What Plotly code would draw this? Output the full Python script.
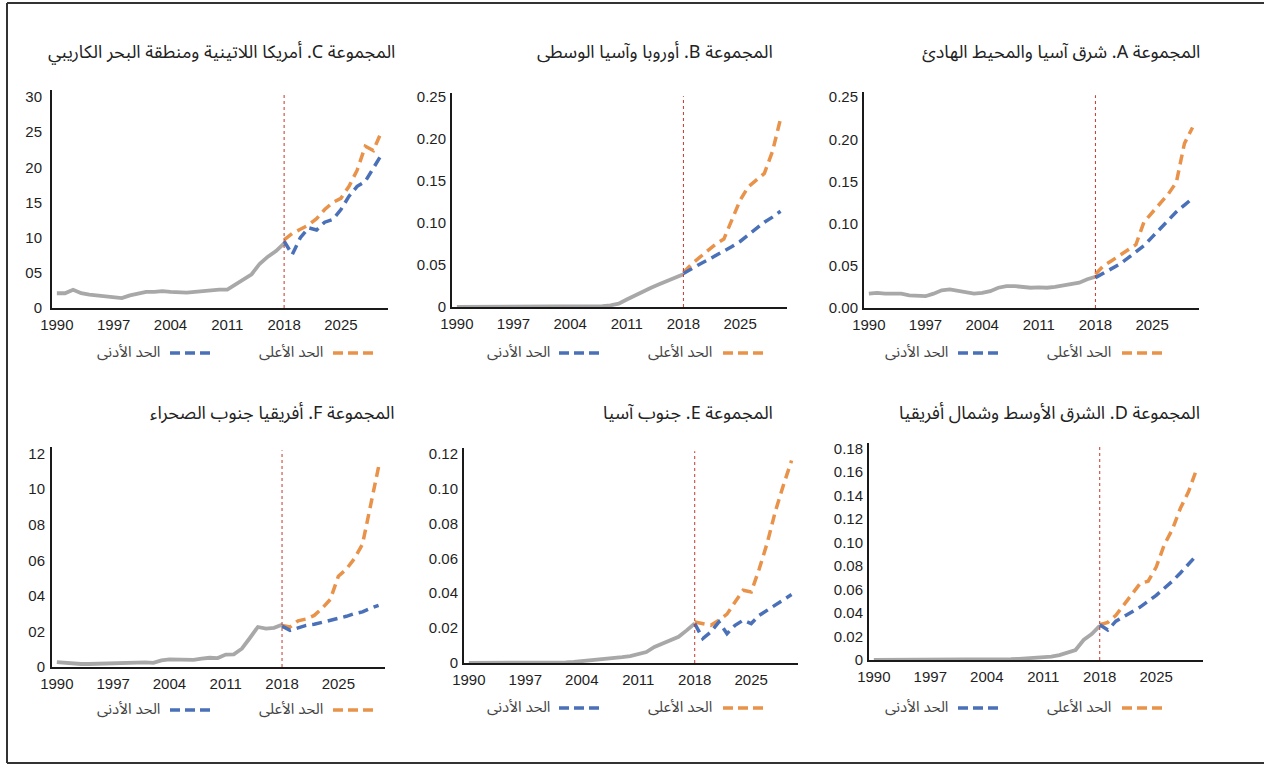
import plotly.graph_objects as go

W, H = 1264, 765

hist_years = list(range(1990, 2019))
proj_years = list(range(2018, 2031))

# Group A - East Asia & Pacific
a_hist = [0.017, 0.018, 0.017, 0.017, 0.017, 0.015, 0.014, 0.014, 0.017, 0.021,
          0.022, 0.020, 0.018, 0.017, 0.018, 0.020, 0.024, 0.026, 0.026, 0.025,
          0.024, 0.0245, 0.024, 0.025, 0.027, 0.028, 0.030, 0.034, 0.037]
a_upper = [0.040, 0.050, 0.056, 0.062, 0.068, 0.075, 0.102, 0.113, 0.124, 0.135,
           0.149, 0.195, 0.214]
a_lower = [0.036, 0.041, 0.047, 0.052, 0.059, 0.066, 0.074, 0.084, 0.094, 0.105,
           0.114, 0.122, 0.130]

# Group B - Europe & Central Asia
b_hist = [0, 0, 0, 0, 0, 0, 0, 0, 0, 0,
          0, 0, 0, 0, 0, 0, 0.0003, 0.0005, 0.001, 0.002,
          0.004, 0.009, 0.014, 0.019, 0.023, 0.027, 0.031, 0.036, 0.039]
b_upper = [0.041, 0.051, 0.059, 0.067, 0.075, 0.081, 0.103, 0.127, 0.143, 0.151,
           0.159, 0.185, 0.224]
b_lower = [0.040, 0.046, 0.051, 0.056, 0.061, 0.066, 0.072, 0.078, 0.086, 0.093,
           0.101, 0.107, 0.114]

# Group C - Latin America & Caribbean
c_hist = [0.021, 0.021, 0.026, 0.021, 0.019, 0.018, 0.017, 0.015, 0.014, 0.018,
          0.021, 0.023, 0.023, 0.024, 0.023, 0.022, 0.022, 0.023, 0.024, 0.026,
          0.026, 0.026, 0.033, 0.040, 0.048, 0.063, 0.073, 0.081, 0.092]
c_upper = [0.097, 0.106, 0.112, 0.118, 0.127, 0.140, 0.150, 0.156, 0.173, 0.196,
           0.230, 0.224, 0.251]
c_lower = [0.095, 0.076, 0.100, 0.114, 0.111, 0.122, 0.126, 0.140, 0.159, 0.173,
           0.180, 0.199, 0.218]

# Group D - Middle East & North Africa
d_hist = [0, 0, 0, 0, 0, 0, 0, 0, 0, 0.0003,
          0.0006, 0.0006, 0.0006, 0.0006, 0.0006, 0.0006, 0.0006, 0.0008, 0.001, 0.0014,
          0.0023, 0.0028, 0.0028, 0.0042, 0.0065, 0.0085, 0.017, 0.022, 0.029]
d_upper = [0.030, 0.032, 0.038, 0.047, 0.055, 0.065, 0.067, 0.079, 0.098, 0.111,
           0.129, 0.143, 0.162]
d_lower = [0.030, 0.0255, 0.033, 0.037, 0.041, 0.045, 0.050, 0.055, 0.061, 0.067,
           0.074, 0.081, 0.089]

# Group E - South Asia
e_hist = [0, 0, 0, 0, 0, 0, 0, 0, 0, 0.0001,
          0.0002, 0.0003, 0.0004, 0.0006, 0.001, 0.0015, 0.002, 0.0025, 0.003, 0.0034,
          0.004, 0.005, 0.0063, 0.0092, 0.011, 0.013, 0.015, 0.0187, 0.0226]
e_upper = [0.0235, 0.0225, 0.0216, 0.0245, 0.028, 0.035, 0.0417, 0.0407, 0.054, 0.069,
           0.087, 0.102, 0.116]
e_lower = [0.0226, 0.014, 0.0178, 0.0235, 0.0168, 0.0216, 0.0245, 0.0226, 0.0273, 0.0302,
           0.033, 0.0359, 0.0392]

# Group F - Sub-Saharan Africa
f_hist = [0.0028, 0.0023, 0.002, 0.0017, 0.0017, 0.0019, 0.002, 0.0019, 0.0024, 0.0024,
          0.0028, 0.0026, 0.0023, 0.0037, 0.0043, 0.0042, 0.004, 0.004, 0.0047, 0.0052,
          0.005, 0.007, 0.0071, 0.0103, 0.0163, 0.0225, 0.0216, 0.022, 0.0238]
f_upper = [0.0234, 0.0225, 0.026, 0.027, 0.029, 0.033, 0.038, 0.051, 0.055, 0.061,
           0.069, 0.091, 0.1125]
f_lower = [0.023, 0.0206, 0.022, 0.0234, 0.024, 0.025, 0.026, 0.027, 0.0285, 0.030,
           0.031, 0.033, 0.0347]

x_ticks = [1990, 1997, 2004, 2011, 2018, 2025]

a_yticks = [0, 0.05, 0.10, 0.15, 0.20, 0.25]
a_ylabels = ["0.00", "0.05", "0.10", "0.15", "0.20", "0.25"]
b_yticks = [0, 0.05, 0.10, 0.15, 0.20, 0.25]
b_ylabels = ["0", "0.05", "0.10", "0.15", "0.20", "0.25"]
c_yticks = [0, 0.05, 0.10, 0.15, 0.20, 0.25, 0.30]
c_ylabels = ["0", "05", "10", "15", "20", "25", "30"]
d_yticks = [0, 0.02, 0.04, 0.06, 0.08, 0.10, 0.12, 0.14, 0.16, 0.18]
d_ylabels = ["0", "0.02", "0.04", "0.06", "0.08", "0.10", "0.12", "0.14", "0.16", "0.18"]
e_yticks = [0, 0.02, 0.04, 0.06, 0.08, 0.10, 0.12]
e_ylabels = ["0", "0.02", "0.04", "0.06", "0.08", "0.10", "0.12"]
f_yticks = [0, 0.02, 0.04, 0.06, 0.08, 0.10, 0.12]
f_ylabels = ["0", "02", "04", "06", "08", "10", "12"]

titles = {
    "A": "المجموعة A. شرق آسيا والمحيط الهادئ",
    "B": "المجموعة B. أوروبا وآسيا الوسطى",
    "C": "المجموعة C. أمريكا اللاتينية ومنطقة البحر الكاريبي",
    "D": "المجموعة D. الشرق الأوسط وشمال أفريقيا",
    "E": "المجموعة E. جنوب آسيا",
    "F": "المجموعة F. أفريقيا جنوب الصحراء",
}
upper_label = "الحد الأعلى"
lower_label = "الحد الأدنى"

GREY = "#a8a8a8"
ORANGE = "#e8924a"
BLUE = "#4a70b8"
RED = "#c0392b"
ARABIC_FONT = "Noto Sans Arabic, DejaVu Sans, sans-serif"
NUM_FONT = "Liberation Sans, Arial, sans-serif"

# layout boxes in pixels: (left, right, top, bottom)
panels = [
    dict(k="A", hist=a_hist, up=a_upper, lo=a_lower, yt=a_yticks, yl=a_ylabels,
         box=(864, 1199, 92, 308), ytop=0.256, tr=1202, ty=52, ly=353, stand=1, col=2),
    dict(k="B", hist=b_hist, up=b_upper, lo=b_lower, yt=b_yticks, yl=b_ylabels,
         box=(452, 787, 93, 307), ytop=0.2548, tr=775, ty=52, ly=353, stand=1, col=1),
    dict(k="C", hist=c_hist, up=c_upper, lo=c_lower, yt=c_yticks, yl=c_ylabels,
         box=(52, 388, 90, 308), ytop=0.31, tr=397, ty=52, ly=353, stand=5, col=0),
    dict(k="D", hist=d_hist, up=d_upper, lo=d_lower, yt=d_yticks, yl=d_ylabels,
         box=(869, 1203, 443, 660), ytop=0.1845, tr=1202, ty=413, ly=708, stand=1, col=2),
    dict(k="E", hist=e_hist, up=e_upper, lo=e_lower, yt=e_yticks, yl=e_ylabels,
         box=(464, 798, 448, 663), ytop=0.1232, tr=775, ty=413, ly=708, stand=1, col=1),
    dict(k="F", hist=f_hist, up=f_upper, lo=f_lower, yt=f_yticks, yl=f_ylabels,
         box=(52, 385, 447, 667), ytop=0.1237, tr=397, ty=413, ly=710, stand=2, col=0),
]

legend_pos = {
    0: ((333, 375), 325, (170, 212), 162),
    1: ((723, 765), 714, (559, 601), 552),
    2: ((1122, 1163), 1113, (958, 1000), 950),
}


def px(x):
    return x / W


def py(y):
    return 1 - y / H


fig = go.Figure()
layout = {}
shapes = []
annotations = []

for i, p in enumerate(panels, start=1):
    xa = "x" if i == 1 else f"x{i}"
    ya = "y" if i == 1 else f"y{i}"
    xkey = "xaxis" if i == 1 else f"xaxis{i}"
    ykey = "yaxis" if i == 1 else f"yaxis{i}"
    l, r, t, b = p["box"]

    fig.add_trace(go.Scatter(x=hist_years, y=p["hist"], mode="lines",
                             line=dict(color=GREY, width=3.8), xaxis=xa, yaxis=ya,
                             showlegend=False, hoverinfo="skip"))
    fig.add_trace(go.Scatter(x=proj_years, y=p["up"], mode="lines",
                             line=dict(color=ORANGE, width=3.5, dash="10px,6px"),
                             xaxis=xa, yaxis=ya, showlegend=False, hoverinfo="skip"))
    fig.add_trace(go.Scatter(x=proj_years, y=p["lo"], mode="lines",
                             line=dict(color=BLUE, width=3.5, dash="10px,6px"),
                             xaxis=xa, yaxis=ya, showlegend=False, hoverinfo="skip"))

    layout[xkey] = dict(domain=[px(l), px(r)], anchor=ya, range=[1989.4, 2030.8],
                        tickmode="array", tickvals=x_ticks,
                        ticktext=[str(v) for v in x_ticks], automargin=False,
                        showgrid=False, zeroline=False, showline=True,
                        linecolor="#1a1a1a", linewidth=2, ticks="",
                        ticklabelstandoff=2,
                        tickfont=dict(family=NUM_FONT, size=15, color="#1f1f1f"))
    layout[ykey] = dict(domain=[py(b), py(t)], anchor=xa, range=[0, p["ytop"]],
                        tickmode="array", tickvals=p["yt"], ticktext=p["yl"],
                        automargin=False,
                        showgrid=False, zeroline=False, showline=True,
                        linecolor="#1a1a1a", linewidth=2, ticks="",
                        ticklabelstandoff=p["stand"],
                        tickfont=dict(family=NUM_FONT, size=15, color="#1f1f1f"))

    # 2018 divider
    shapes.append(dict(type="line", xref=xa, yref=f"{ya} domain", x0=2018, x1=2018,
                       y0=0, y1=0.985, line=dict(color=RED, width=1, dash="dot")))

    # title (right aligned, RTL)
    annotations.append(dict(xref="paper", yref="paper", x=px(p["tr"]), y=py(p["ty"]),
                            xanchor="right", yanchor="middle", showarrow=False,
                            text="\u202b" + titles[p["k"]] + "\u202c",
                            font=dict(family=ARABIC_FONT, size=18, color="#222222")))

    # legend (RTL: swatch right of label)
    o_sw, o_tx, b_sw, b_tx = legend_pos[p["col"]]
    ly = p["ly"]
    shapes.append(dict(type="line", xref="paper", yref="paper",
                       x0=px(o_sw[0]), x1=px(o_sw[1]), y0=py(ly), y1=py(ly),
                       line=dict(color=ORANGE, width=3.5, dash="10px,5px")))
    shapes.append(dict(type="line", xref="paper", yref="paper",
                       x0=px(b_sw[0]), x1=px(b_sw[1]), y0=py(ly), y1=py(ly),
                       line=dict(color=BLUE, width=3.5, dash="10px,5px")))
    annotations.append(dict(xref="paper", yref="paper", x=px(o_tx), y=py(ly - 1),
                            xanchor="right", yanchor="middle", showarrow=False,
                            text="\u202b" + upper_label + "\u202c",
                            font=dict(family=ARABIC_FONT, size=15, color="#444444")))
    annotations.append(dict(xref="paper", yref="paper", x=px(b_tx), y=py(ly - 1),
                            xanchor="right", yanchor="middle", showarrow=False,
                            text="\u202b" + lower_label + "\u202c",
                            font=dict(family=ARABIC_FONT, size=15, color="#444444")))

# outer frame
frame = dict(color="#333333", width=2)
shapes.append(dict(type="line", xref="paper", yref="paper", x0=px(7), x1=px(7),
                   y0=py(3), y1=py(763), line=frame))
shapes.append(dict(type="line", xref="paper", yref="paper", x0=px(7), x1=1.0,
                   y0=py(3), y1=py(3), line=frame))
shapes.append(dict(type="line", xref="paper", yref="paper", x0=px(7), x1=1.0,
                   y0=py(763), y1=py(763), line=frame))

fig.update_layout(**layout)
fig.update_layout(width=W, height=H, margin=dict(l=0, r=0, t=0, b=0, autoexpand=False),
                  paper_bgcolor="white", plot_bgcolor="white",
                  shapes=shapes, annotations=annotations, showlegend=False)

fig.write_html("out.html", config={"displayModeBar": False},
               post_script="document.body.style.margin='0';document.body.style.overflow='hidden';")
